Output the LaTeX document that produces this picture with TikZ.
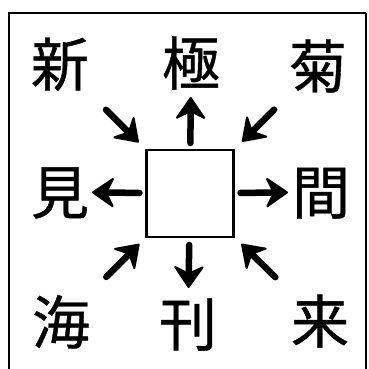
\documentclass[tikz,border=0pt]{standalone}
\usepackage{fontspec}
\newfontfamily\cjk[AutoFakeBold=0.7]{Noto Sans CJK JP}
\usetikzlibrary{arrows.meta}

\tikzset{
  kanji/.style={inner sep=0pt, outer sep=0pt, minimum width=58pt,
    text height=51pt, text depth=7pt,
    font=\cjk\bfseries\fontsize{58pt}{58pt}\selectfont},
  arr/.style={line width=6.5pt, line cap=round,
    -{Stealth[length=24pt, width=33pt, inset=8pt, round, line width=2pt]}},
}

\begin{document}
\begin{tikzpicture}[x=1pt, y=-1pt]

     \useasboundingbox (0, 0) rectangle (368, 369);
     \clip (0, 0) rectangle (368, 369);

     \draw [line width=2.6pt] (9, 380) -- (9, 13) -- (366, 13);
     \draw [line width=1.2pt] (366, 13) -- (366, 380);

     \node (Q) at (190, 193.5) [draw, line width=2.6pt, outer sep=0pt, minimum size=87pt] {};

     \node (A) at (60, 64) [kanji] {新};
     \node (B) at (191, 63) [kanji] {極};
     \node (C) at (318, 66) [kanji] {菊};
     \node (D) at (60, 192) [kanji] {見};
     \node (E) at (321, 192) [kanji] {間};
     \node (F) at (61, 322) [kanji] {海};
     \node (G) at (188, 324) [kanji] {刊};
     \node (H) at (320, 321) [kanji] {来};

     \draw [arr, shorten <=7pt, shorten >=5pt] (Q) to (B);
     \draw [arr, shorten <=7pt, shorten >=3pt] (Q) to (D);
     \draw [arr, shorten <=7pt, shorten >=4pt] (Q) to (E);
     \draw [arr, shorten <=8pt, shorten >=7pt] (Q) to (G);

     \draw [arr, shorten <=24pt, shorten >=11pt] (A) to (Q);
     \draw [arr, shorten <=21pt, shorten >=12pt] (C) to (Q);
     \draw [arr, shorten <=23pt, shorten >=10pt] (F) to (Q);
     \draw [arr, shorten <=22pt, shorten >=11pt] (H) to (Q);

\end{tikzpicture}
\end{document}
